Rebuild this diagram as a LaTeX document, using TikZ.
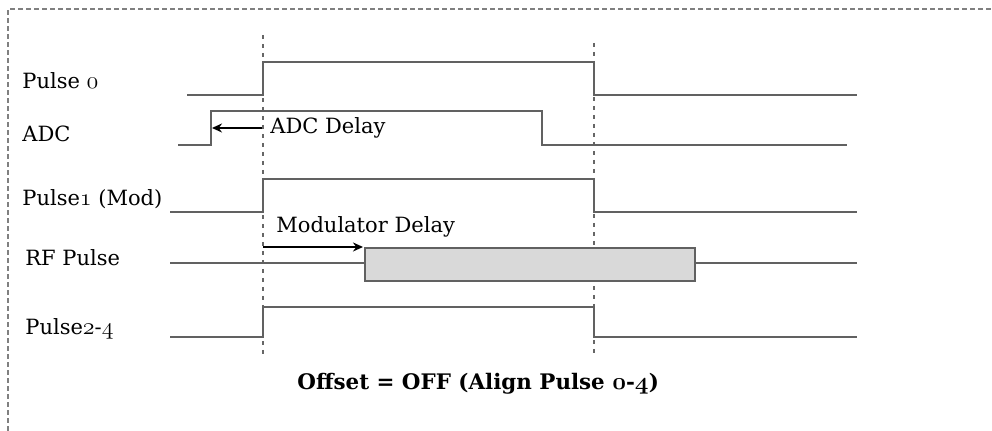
\documentclass[tikz,border=0pt]{standalone}
\usepackage{fontspec}
\setmainfont{DejaVu Serif}
\usetikzlibrary{positioning,arrows.meta}
% old-style figures as in the reference
\newcommand\osf[1]{{\fontsize{12.8}{13}\usefont{OML}{cmm}{m}{it}#1}}
\newcommand\osfb[1]{{\fontsize{13}{13}\usefont{OML}{cmm}{b}{it}#1}}

\begin{document}
\begin{tikzpicture}[x=0.5pt,y=-0.5pt,
    every node/.style={font=\fontsize{10.5}{12}\selectfont, inner sep=0pt},
    sig/.style={anchor=base west},
    wave/.style={draw=black!62, line width=1pt},
    marker/.style={draw=black!60, line width=1pt, dash pattern=on 2pt off 2.5pt},
    delay/.style={draw=black, line width=1.1pt, -{Stealth[length=5pt,width=4.5pt]}},
    frame/.style={draw=black!50, line width=0.6pt, dash pattern=on 2.5pt off 1.5pt}]
    \useasboundingbox (0,0) rectangle (992,431);
    \draw[frame] (8,431) -- (8,9) -- (992,9);

    % signal names
    \node[sig] (p0)  at (22,89)  {Pulse \osf{0}};
    \node[sig] (adc) at (22,142) {ADC};
    \node[sig] (p1)  at (22,206) {Pulse\osf{1} (Mod)};
    \node[sig] (rf)  at (25,266) {RF Pulse};
    \node[sig] (p24) at (25,335) {Pulse\osf{2}-\osf{4}};

    % alignment markers
    \coordinate (on)  at (263,35);
    \coordinate (off) at (594,43);
    \draw[marker] (on) -- (on |- 0,357);
    \draw[marker] (off) -- (off |- 0,357);

    % waveforms
    \draw[wave] (187,95) -- (263,95) -- (263,62) -- (594,62) -- (594,95) -- (857,95);
    \draw[wave] (178,145) -- (211,145) -- (211,111) -- (542,111) -- (542,145) -- (847,145);
    \draw[wave] (170,212) -- (263,212) -- (263,179) -- (594,179) -- (594,212) -- (857,212);
    \draw[wave] (170,263) -- (365,263);
    \draw[wave, fill=black!15] (365,248) rectangle (695,281);
    \draw[wave] (695,263) -- (857,263);
    \draw[wave] (170,337) -- (263,337) -- (263,307) -- (594,307) -- (594,337) -- (857,337);

    % delays
    \coordinate (adcstart) at (212,128);
    \coordinate (adcref)   at (262,128);
    \coordinate (modref)   at (263,247);
    \coordinate (rfstart)  at (363,247);
    \draw[delay] (adcref) -- (adcstart);
    \draw[delay] (modref) -- (rfstart);
    \node[sig] (adcdelay) at (270,134) {ADC Delay};
    \node[sig] (moddelay) at (276,233) {Modulator Delay};

    \node[sig, font=\fontsize{10.7}{12}\selectfont\bfseries] (offset) at (297,390)
      {Offset = OFF (Align Pulse \osfb{0}-\osfb{4})};
\end{tikzpicture}
\end{document}
